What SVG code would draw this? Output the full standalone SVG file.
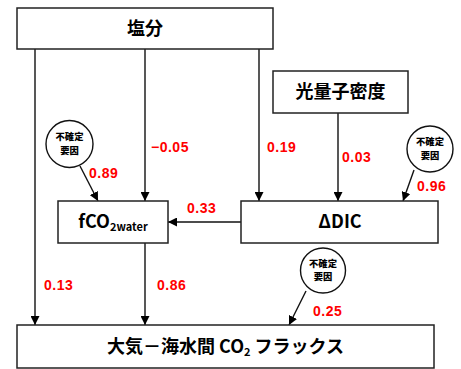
<svg xmlns="http://www.w3.org/2000/svg" width="461" height="369" viewBox="0 0 461 369">
<style>
.box{fill:#fff;stroke:#222;stroke-width:1.5}
.circ{fill:#fff;stroke:#111;stroke-width:1.4}
.t{font-family:"Noto Sans CJK JP","Liberation Sans",sans-serif;font-weight:bold;font-size:18px;fill:#000;text-anchor:middle}
.ct{font-family:"Noto Sans CJK JP",sans-serif;font-weight:900;font-size:9.3px;fill:#000;text-anchor:middle}
.lab{font-family:"Liberation Sans",Arial,sans-serif;font-weight:bold;font-size:14px;fill:#ff0000;letter-spacing:0.5px}
.con line{stroke:#111;stroke-width:1.4;fill:none}
</style>
<defs>
<marker id="ah" markerUnits="userSpaceOnUse" markerWidth="9" markerHeight="9" viewBox="0 0 10 10" refX="10" refY="5" orient="auto">
<path d="M0,0 L10,5 L0,10 z" fill="#000"/>
</marker>
</defs>
<rect width="461" height="369" fill="#fff"/>
<g class="con">
<line x1="35" y1="49" x2="35" y2="325" marker-end="url(#ah)"/>
<line x1="145" y1="49" x2="145" y2="201" marker-end="url(#ah)"/>
<line x1="259" y1="49" x2="259" y2="201" marker-end="url(#ah)"/>
<line x1="338" y1="113" x2="338" y2="201" marker-end="url(#ah)"/>
<line x1="80" y1="166" x2="98" y2="201" marker-end="url(#ah)"/>
<line x1="414" y1="170" x2="403" y2="201" marker-end="url(#ah)"/>
<line x1="241" y1="222" x2="168" y2="222" marker-end="url(#ah)"/>
<line x1="145" y1="243" x2="145" y2="325" marker-end="url(#ah)"/>
<line x1="306" y1="291" x2="289" y2="325" marker-end="url(#ah)"/>
</g>
<g id="salinity">
<rect class="box" x="17" y="8" width="256" height="41"/>
<text class="t" x="145" y="35">塩分</text>
</g>
<g id="ppfd">
<rect class="box" x="273" y="71" width="135" height="42"/>
<text class="t" x="340.5" y="98">光量子密度</text>
</g>
<g id="fco2">
<rect class="box" x="58" y="201" width="110" height="42"/>
<text class="t" x="113" y="228">fCO<tspan font-size="11px" dy="3">2water</tspan></text>
</g>
<g id="ddic">
<rect class="box" x="241" y="201" width="197" height="42"/>
<text class="t" x="340" y="228">ΔDIC</text>
</g>
<g id="flux">
<rect class="box" x="17" y="325" width="417" height="43"/>
<text class="t" x="225.5" y="353">大気－海水間 CO<tspan font-size="11px" dy="3">2</tspan><tspan dy="-3"> フラックス</tspan></text>
</g>
<g id="unc1">
<circle class="circ" cx="69.5" cy="144" r="23.5"/>
<text class="ct" x="69.5" y="140.3">不確定</text>
<text class="ct" x="69.5" y="153.8">要因</text>
</g>
<g id="unc2">
<circle class="circ" cx="430" cy="149" r="23"/>
<text class="ct" x="430" y="145.3">不確定</text>
<text class="ct" x="430" y="158.8">要因</text>
</g>
<g id="unc3">
<circle class="circ" cx="323" cy="270.5" r="22.5"/>
<text class="ct" x="323" y="266.8">不確定</text>
<text class="ct" x="323" y="280.3">要因</text>
</g>
<g id="labels">
<text class="lab" x="89" y="178">0.89</text>
<text class="lab" x="151" y="152">−0.05</text>
<text class="lab" x="267" y="152">0.19</text>
<text class="lab" x="342" y="162">0.03</text>
<text class="lab" x="417" y="191">0.96</text>
<text class="lab" x="187" y="213">0.33</text>
<text class="lab" x="44" y="290">0.13</text>
<text class="lab" x="157" y="290">0.86</text>
<text class="lab" x="313" y="316">0.25</text>
</g>
</svg>
